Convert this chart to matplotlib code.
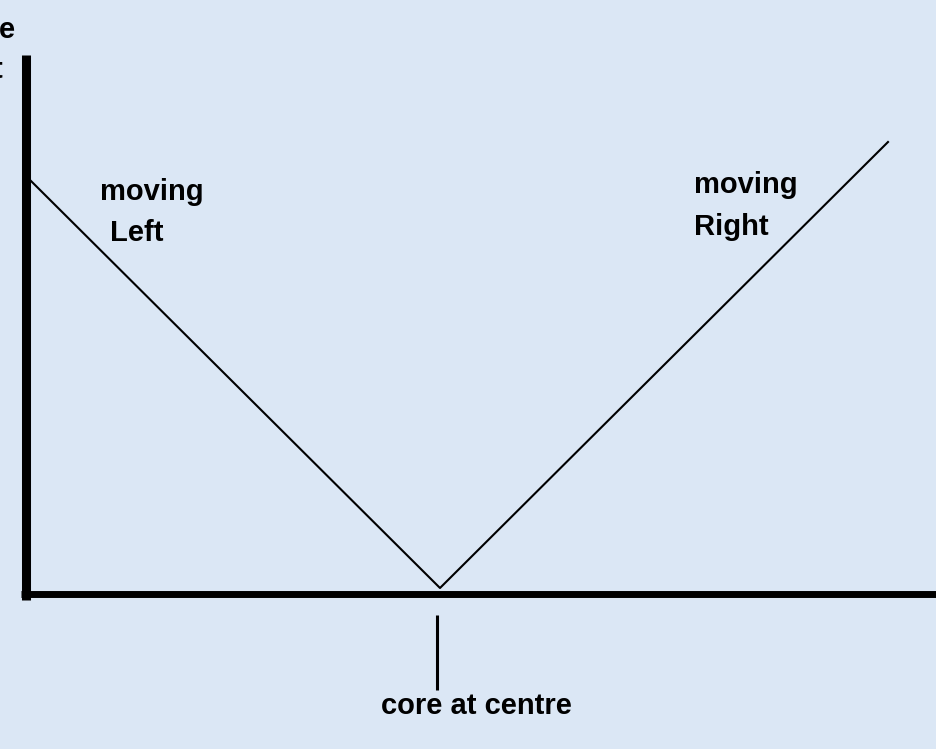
import matplotlib
matplotlib.use("Agg")
import matplotlib.pyplot as plt

# Data (position relative to core centre, value)
positions = [-4.10, 0.0, 4.48]
values = [4.08, 0.0, 4.46]
label_left = ["moving", "Left"]
label_right = ["moving", "Right"]
core_label = "core at centre"

W, H, DPI = 937, 749, 100
fig = plt.figure(figsize=(W / DPI, H / DPI), dpi=DPI)
fig.patch.set_facecolor("#dbe7f5")
ax = fig.add_axes([0, 0, 1, 1])
ax.set_facecolor("#dbe7f5")
# pixel mapping: x_px = 440 + 100*x ; y_px(from top) = 588 - 100*y
ax.set_xlim(-4.40, (W - 440) / 100)
ax.set_ylim((588 - H) / 100, 588 / 100)
ax.axis("off")

# axes lines
ax.plot([-4.145, -4.145], [-0.12, 5.33], color="black", lw=6.5, solid_capstyle="butt")
ax.plot([-4.19, 5.0], [-0.055, -0.055], color="black", lw=5.0, solid_capstyle="butt")

# V-shaped line
ax.plot(positions, values, color="black", lw=1.5)

# centre tick
ax.plot([-0.03, -0.03], [-0.27, -1.02], color="black", lw=2.2, solid_capstyle="butt")

font = dict(family="Liberation Sans", fontsize=21, color="black", fontweight="bold")
ax.text(-3.40, 3.88, label_left[0], ha="left", va="baseline", **font)
ax.text(-3.30, 3.47, label_left[1], ha="left", va="baseline", **font)
ax.text(2.54, 3.95, label_right[0], ha="left", va="baseline", **font)
ax.text(2.54, 3.53, label_right[1], ha="left", va="baseline", **font)
ax.text(0.36, -1.26, core_label, ha="center", va="baseline", **font)

# cut-off label fragments at top-left
ax.text(-4.41, 5.50, "e", ha="left", va="baseline", **font)
ax.text(-4.47, 5.10, "t", ha="left", va="baseline", **font)

fig.savefig("out.png", dpi=DPI, facecolor=fig.get_facecolor())
